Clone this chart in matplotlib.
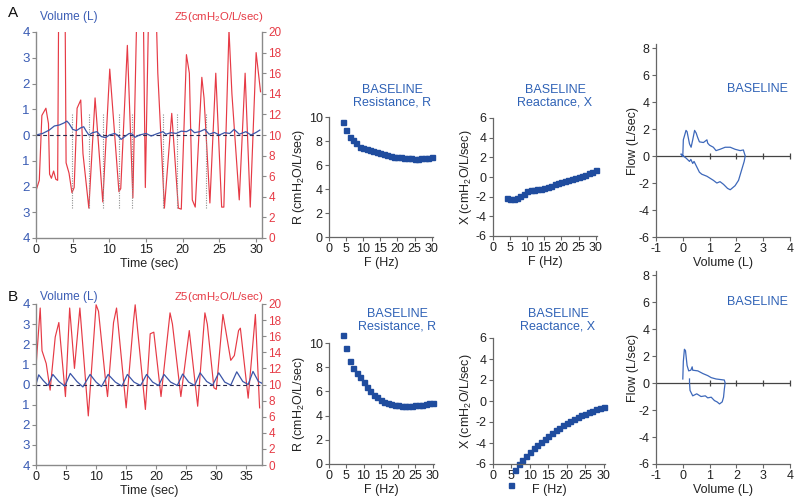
import matplotlib
matplotlib.use('Agg')
import matplotlib.pyplot as plt

plt.rcParams['font.family'] = ['Liberation Sans', 'DejaVu Sans']
plt.rcParams['mathtext.fontset'] = 'custom'
plt.rcParams['mathtext.rm'] = 'Liberation Sans'
plt.rcParams['mathtext.it'] = 'Liberation Sans:italic'
plt.rcParams['mathtext.bf'] = 'Liberation Sans:bold'
plt.rcParams['axes.unicode_minus'] = False

# ---------------- data ----------------
# Panel A time trace
a_z_t = [0.0, 0.45, 0.8, 1.35, 1.7, 1.85, 2.1, 2.4, 2.7, 2.95, 3.1, 3.95, 4.1, 4.5, 4.9, 5.2, 5.6, 6.1,
         6.4, 7.2, 8.05, 9.1, 10.05, 11.3, 11.55, 12.45, 13.2, 13.8, 14.6, 14.9, 15.4, 16.3, 16.6,
         17.5, 18.5, 19.4, 19.8, 20.5, 20.9, 21.3, 21.7, 22.6, 22.9, 23.7, 24.5, 25.3, 25.6, 26.3,
         26.7, 27.7, 28.5, 29.2, 30.0, 30.6]
a_z = [4.6, 5.6, 11.9, 12.6, 11.1, 6.2, 5.8, 6.5, 5.7, 5.6, 24.0, 24.0, 7.3, 6.3, 4.4, 4.9, 12.6, 13.4,
       8.2, 2.9, 13.6, 3.5, 16.4, 4.5, 4.8, 18.7, 3.9, 24.0, 24.0, 4.9, 24.0, 24.0, 16.0,
       2.9, 12.1, 2.9, 2.8, 17.8, 16.0, 3.7, 3.0, 15.6, 13.6, 3.4, 16.0, 3.0, 3.0, 20.2,
       14.0, 3.7, 16.0, 3.0, 18.0, 14.2]
a_v_t = [0.0, 0.9, 1.8, 2.5, 3.2, 3.9, 4.2, 4.5, 5.0, 5.5, 6.1, 6.5, 6.8, 7.2, 7.7, 8.3, 8.9, 9.5, 10.0,
         10.7, 11.1, 11.6, 12.2, 12.7, 13.1, 13.5, 14.1, 15.0, 15.7, 16.4, 17.3, 17.7, 18.4, 19.1,
         19.8, 20.5, 21.1, 21.6, 22.3, 23.0, 23.6, 24.3, 25.0, 25.7, 26.4, 27.0, 27.7, 28.6, 29.3,
         30.0, 30.5]
a_v = [0.0, 0.06, 0.19, 0.35, 0.39, 0.48, 0.54, 0.45, 0.22, 0.17, 0.28, 0.32, 0.17, 0.0, 0.09, 0.13,
       -0.06, -0.1, 0.0, 0.06, 0.0, -0.17, -0.04, 0.06, 0.04, -0.09, 0.0, 0.06, -0.04, 0.04, 0.13,
       0.03, 0.09, 0.06, 0.15, 0.13, 0.22, 0.09, 0.13, 0.22, 0.03, 0.1, 0.0, 0.09, 0.06, 0.22, 0.03,
       0.13, 0.0, 0.1, 0.19]
a_marks = [4.9, 7.2, 9.1, 11.3, 13.1, 17.3, 19.2, 23.2]

# Panel B time trace
b_z_t = [0.0, 0.7, 1.0, 1.7, 2.35, 3.2, 3.8, 4.9, 5.6, 6.4, 7.3, 8.7, 10.0, 10.4, 11.5, 11.9, 12.9,
         13.4, 15.0, 16.2, 16.5, 18.2, 19.0, 19.6, 20.8, 22.3, 22.7, 24.1, 25.5, 26.9, 28.1, 28.5,
         29.6, 30.0, 31.1, 31.5, 32.4, 33.0, 33.7, 34.0, 35.3, 36.5, 37.2]
b_z = [12.2, 19.5, 14.2, 12.6, 9.3, 15.9, 17.7, 8.5, 19.5, 12.0, 19.5, 6.1, 19.9, 19.1, 11.0, 8.5, 17.7,
       19.5, 7.1, 17.7, 19.9, 6.9, 16.3, 16.5, 8.5, 18.9, 17.5, 8.5, 16.7, 7.3, 18.9, 17.5,
       9.6, 9.4, 18.7, 17.0, 13.0, 13.6, 16.7, 17.0, 8.3, 18.7, 7.1]
b_v_t = [0.0, 0.45, 1.2, 2.0, 2.8, 3.8, 4.8, 5.7, 6.8, 7.8, 9.0, 10.0, 10.9, 12.0, 13.2, 14.3, 15.2,
         16.3, 17.4, 18.4, 19.4, 20.4, 21.3, 22.4, 23.5, 24.4, 25.4, 26.4, 27.3, 28.4, 29.4, 30.4,
         31.4, 32.4, 33.4, 34.4, 35.3, 36.1, 37.0, 38.0]
b_v = [0.0, 0.48, 0.2, -0.05, 0.5, 0.15, -0.08, 0.55, 0.15, -0.12, 0.5, 0.12, -0.1, 0.5, 0.12, -0.08,
       0.5, 0.12, -0.05, 0.5, 0.12, -0.05, 0.5, 0.12, -0.05, 0.52, 0.12, -0.05, 0.58, 0.15, -0.03,
       0.58, 0.12, -0.03, 0.63, 0.15, 0.0, 0.65, 0.15, 0.0]

# Impedance spectra
freq = list(range(4, 31))
r_a = [9.6, 8.95, 8.3, 8.05, 7.8, 7.5, 7.4, 7.3, 7.25, 7.2, 7.1, 7.0, 6.9, 6.85, 6.75, 6.7, 6.65, 6.65,
       6.6, 6.6, 6.55, 6.5, 6.5, 6.55, 6.55, 6.6, 6.65]
x_a = [-2.15, -2.2, -2.2, -2.1, -1.9, -1.7, -1.45, -1.35, -1.3, -1.25, -1.2, -1.1, -1.0, -0.9, -0.75,
       -0.65, -0.55, -0.45, -0.35, -0.25, -0.1, 0.0, 0.1, 0.25, 0.4, 0.55, 0.75]
r_b = [10.7, 9.6, 8.5, 7.9, 7.55, 7.15, 6.8, 6.4, 6.0, 5.7, 5.5, 5.3, 5.15, 5.05, 4.95, 4.9, 4.85, 4.8,
       4.8, 4.8, 4.82, 4.85, 4.88, 4.9, 4.95, 5.05, 5.05]
freq_xb = list(range(5, 31))
x_b = [-8.0, -6.6, -6.0, -5.6, -5.2, -4.85, -4.5, -4.2, -3.9, -3.6, -3.3, -3.05, -2.8, -2.55, -2.3,
       -2.1, -1.9, -1.7, -1.5, -1.35, -1.2, -1.05, -0.95, -0.8, -0.7, -0.55]

# Flow-volume loops
fa_vol = [0.0, 0.02, 0.12, 0.16, 0.25, 0.31, 0.37, 0.44, 0.5, 0.55, 0.62, 0.77, 0.9, 0.93, 1.0, 1.14,
          1.24, 1.39, 1.58, 1.77, 1.95, 2.14, 2.26, 2.33, 2.29, 2.2, 2.08, 1.95, 1.77, 1.67, 1.52,
          1.39, 1.27, 1.14, 0.9, 0.71, 0.62, 0.52, 0.42, 0.37, 0.3, 0.25, 0.12, 0.02, -0.07, 0.0]
fa_flow = [0.0, 1.2, 1.9, 1.8, 0.9, 0.65, 1.2, 1.9, 1.7, 1.4, 1.05, 1.0, 1.2, 0.95, 0.8, 0.65,
           0.4, 0.5, 0.65, 0.65, 0.5, 0.4, 0.45, 0.0, -0.4, -1.0, -1.8, -2.2, -2.5, -2.4, -2.1,
           -1.9, -2.0, -1.8, -1.5, -1.35, -1.2, -0.8, -0.4, -0.55, -0.25, -0.4, -0.15, 0.0, 0.15, 0.0]
fb_vol = [0.0, 0.02, 0.06, 0.1, 0.16, 0.22, 0.3, 0.35, 0.37, 0.56, 0.75, 0.93, 1.06, 1.24, 1.55, 1.58,
          1.55, 1.52, 1.47, 1.37, 1.28, 1.18, 1.06, 0.93, 0.84, 0.68, 0.52, 0.37, 0.27, 0.25, 0.25]
fb_flow = [0.3, 1.6, 2.5, 2.4, 1.3, 0.9, 0.95, 1.2, 0.95, 0.9, 0.7, 0.55, 0.4, 0.3, 0.22, 0.0,
           -0.45, -1.05, -1.4, -1.55, -1.4, -1.3, -1.05, -1.1, -0.95, -1.0, -0.8, -0.95, -0.55, 0.05, 0.3]

# ---------------- style ----------------
RED = '#e63a45'
BLUE_LINE = '#3b55a8'
BLUE_TXT = '#3a5cb4'
TITLE_BLUE = '#2f62b6'
MARK = '#1f4c9e'
LOOP = '#3d68ba'
GRAY = '#8a8a8a'
W, H = 800.0, 501.0


def rect(x0, y0, x1, y1):
    return [x0 / W, 1 - y1 / H, (x1 - x0) / W, (y1 - y0) / H]


fig = plt.figure(figsize=(8, 5.01), dpi=100)


def time_panel(r, zt, z, vt, v, xmax, xticks, marks, vol_y, lab_y, letter_y):
    ax = fig.add_axes(r)
    ax2 = ax.twinx()
    ax.set_zorder(ax2.get_zorder() + 1)
    ax.patch.set_visible(False)
    ax.set_xlim(0, xmax)
    ax.set_ylim(-4, 4)
    ax2.set_ylim(0, 20)
    ax2.plot(zt, z, color=RED, lw=0.85)
    if marks:
        ax2.vlines(marks, 2.9, 12.0, colors='#909090', linestyles=(0, (1, 1.2)), lw=0.8)
    ax.axhline(0, color='#2a2a4a', lw=0.8, ls=(0, (3.5, 2.5)))
    ax.plot(vt, v, color=BLUE_LINE, lw=0.9)
    for a in (ax, ax2):
        for s in a.spines.values():
            s.set_visible(False)
    ax.spines['left'].set_visible(True)
    ax.spines['bottom'].set_visible(True)
    ax2.spines['right'].set_visible(True)
    for s in (ax.spines['left'], ax.spines['bottom'], ax2.spines['right']):
        s.set_color(GRAY)
        s.set_linewidth(1.0)
    ax.set_yticks(range(-4, 5))
    ax.set_yticklabels([str(abs(k)) for k in range(-4, 5)])
    ax.tick_params(axis='y', colors=GRAY, labelcolor=BLUE_TXT, labelsize=9.5, length=3, pad=1.5)
    ax.set_xticks(xticks)
    ax.tick_params(axis='x', colors=GRAY, labelcolor='#222222', labelsize=9, length=3, pad=1.5)
    ax2.set_yticks(range(0, 21, 2))
    ax2.tick_params(axis='y', colors=GRAY, labelcolor=RED, labelsize=8.5, length=3, pad=1.5)
    ax.set_xlabel('Time (sec)', fontsize=9, labelpad=1, color='#222222')
    fig.text(40 / W, 1 - vol_y / H, 'Volume (L)', color=BLUE_TXT, fontsize=8.6, va='center')
    fig.text(264 / W, 1 - vol_y / H, 'Z5(cmH$_2$O/L/sec)', color=RED, fontsize=8.2,
             va='center', ha='right')
    fig.text(8 / W, 1 - letter_y / H, lab_y, fontsize=11, va='center', color='#111111')
    return ax


time_panel(rect(36, 32, 262, 238), a_z_t, a_z, a_v_t, a_v, 30.8, range(0, 31, 5),
           a_marks, 17, 'A', 13)
time_panel(rect(36, 304, 262, 465), b_z_t, b_z, b_v_t, b_v, 37.6, range(0, 36, 5),
           None, 297, 'B', 297)


def style_simple(ax):
    for s in ('top', 'right'):
        ax.spines[s].set_visible(False)
    for s in ('left', 'bottom'):
        ax.spines[s].set_color('#666666')
        ax.spines[s].set_linewidth(0.9)
    ax.tick_params(colors='#666666', labelcolor='#222222', labelsize=9, length=3, pad=1.5)


def spectrum(r, f, vals, ylim, yticks, ylabel, title2, tx, ty):
    ax = fig.add_axes(r)
    ax.plot(f, vals, ls='none', marker='s', ms=3.6, color=MARK, mec=MARK, clip_on=False)
    ax.set_xlim(0, 30.4)
    ax.set_ylim(*ylim)
    ax.set_yticks(yticks)
    ax.set_xticks(range(0, 31, 5))
    style_simple(ax)
    ax.set_xlabel('F (Hz)', fontsize=9, labelpad=1, color='#222222')
    ax.set_ylabel(ylabel, fontsize=9, labelpad=1.5, color='#222222')
    fig.text(tx / W, 1 - ty / H, 'BASELINE', color=TITLE_BLUE, fontsize=9, ha='center', va='center')
    fig.text(tx / W, 1 - (ty + 12.5) / H, title2, color=TITLE_BLUE, fontsize=9, ha='center',
             va='center')
    return ax


spectrum(rect(329, 117, 433, 237), freq, r_a, (0, 10), range(0, 11, 2),
         'R (cmH$_2$O/L/sec)', 'Resistance, R', 392, 90)
spectrum(rect(493, 118, 597, 236), freq, x_a, (-6, 6), range(-6, 7, 2),
         'X (cmH$_2$O/L/sec)', 'Reactance, X', 555, 90)
spectrum(rect(329, 343, 434, 464), freq, r_b, (0, 10), range(0, 11, 2),
         'R (cmH$_2$O/L/sec)', 'Resistance, R', 397, 314)
spectrum(rect(493, 338, 605, 464), freq_xb, x_b, (-6, 6), range(-6, 7, 2),
         'X (cmH$_2$O/L/sec)', 'Reactance, X', 558, 314)


def loop_panel(r, vol, flow, text_y):
    ax = fig.add_axes(r)
    ax.axhline(0, color='#444444', lw=0.9, zorder=1)
    ax.plot([1, 2, 3, 4], [0, 0, 0, 0], ls='none', marker='|', ms=4, mew=0.9, color='#444444',
            clip_on=False, zorder=1)
    ax.plot(vol, flow, color=LOOP, lw=0.9, zorder=2)
    ax.set_xlim(-1, 4)
    ax.set_ylim(-6, 8.3)
    ax.set_xticks(range(-1, 5))
    ax.set_yticks(range(-6, 9, 2))
    style_simple(ax)
    ax.set_xlabel('Volume (L)', fontsize=9, labelpad=1, color='#222222')
    ax.set_ylabel('Flow (L/sec)', fontsize=9, labelpad=0, color='#222222')
    ax.text(2.8, text_y, 'BASELINE', color=TITLE_BLUE, fontsize=9, ha='center', va='center')
    return ax


loop_panel(rect(656, 44, 790, 237), fa_vol, fa_flow, 4.96)
loop_panel(rect(656, 271, 790, 464), fb_vol, fb_flow, 6.0)

fig.savefig('out.png', dpi=100)
